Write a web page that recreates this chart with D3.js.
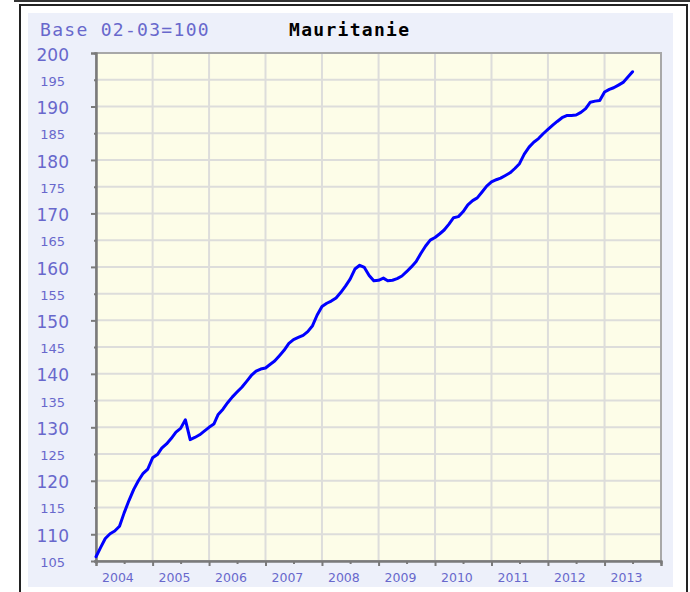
<!DOCTYPE html>
<html>
<head>
<meta charset="utf-8">
<script src="https://cdn.jsdelivr.net/npm/d3@7"></script>
<style>
  html, body { margin: 0; padding: 0; background: #ffffff; }
  svg { display: block; }
</style>
</head>
<body>
<svg id="chart" width="690" height="592"></svg>
<script>
// Monthly price index, Mauritania, base 2002-03 = 100, starting January 2004
const title = "Mauritanie";
const baseLabel = "Base 02-03=100";
const startYear = 2004;
const startMonth = 0;
const indexValues = [
  105.8, 107.6, 109.2, 110.1, 110.6, 111.5, 114.0, 116.3, 118.4, 120.0, 121.4, 122.2,
  124.3, 124.9, 126.1, 126.9, 127.9, 129.1, 129.8, 131.4, 127.7, 128.1, 128.6, 129.3,
  130.0, 130.6, 132.4, 133.4, 134.6, 135.7, 136.6, 137.5, 138.6, 139.7, 140.5, 140.9,
  141.1, 141.8, 142.4, 143.4, 144.4, 145.7, 146.4, 146.8, 147.2, 147.9, 149.0, 151.0,
  152.6, 153.2, 153.6, 154.2, 155.2, 156.4, 157.7, 159.6, 160.3, 159.9, 158.4, 157.4,
  157.5, 157.9, 157.4, 157.5, 157.8, 158.3, 159.1, 160.0, 161.0, 162.5, 163.9, 165.0,
  165.5, 166.2, 166.9, 168.0, 169.2, 169.4, 170.3, 171.6, 172.4, 172.9, 174.0, 175.1,
  175.9, 176.3, 176.6, 177.1, 177.6, 178.4, 179.3, 181.1, 182.4, 183.3, 184.0, 184.9,
  185.7, 186.5, 187.2, 187.9, 188.3, 188.3, 188.4, 188.9, 189.6, 190.8, 191.0, 191.1,
  192.7, 193.2, 193.5, 194.0, 194.5, 195.5, 196.5
];
const yearLabels = ["2004", "2005", "2006", "2007", "2008", "2009", "2010", "2011", "2012", "2013"];
const yMajorTicks = [110, 120, 130, 140, 150, 160, 170, 180, 190, 200];
const yMinorTicks = [105, 115, 125, 135, 145, 155, 165, 175, 185, 195];
const yDomain = [105, 200];

const svg = d3.select("#chart");
const blue = "#6868cc";

// page frame
svg.append("line").attr("x1", 14).attr("x2", 690).attr("y1", 1).attr("y2", 1)
  .attr("stroke", "#333").attr("stroke-width", 2);
svg.append("rect").attr("x", 20).attr("y", 5).attr("width", 667).attr("height", 600)
  .attr("fill", "#ffffff").attr("stroke", "#222").attr("stroke-width", 2);
svg.append("rect").attr("x", 28).attr("y", 13).attr("width", 645).attr("height", 574)
  .attr("fill", "#edf0fa");

const plot = { left: 96, right: 661, top: 53, bottom: 561 };

const x = d3.scaleTime()
  .domain([new Date(startYear, 0, 1), new Date(startYear + yearLabels.length, 0, 1)])
  .range([plot.left, plot.right]);
const y = d3.scaleLinear().domain(yDomain).range([plot.bottom, plot.top]);

// plot background
svg.append("rect")
  .attr("x", plot.left).attr("y", plot.top)
  .attr("width", plot.right - plot.left).attr("height", plot.bottom - plot.top)
  .attr("fill", "#fdfde8");

const yearStarts = yearLabels.map(l => new Date(+l, 0, 1));
const midYears = yearLabels.map(l => new Date(+l, 6, 1));
const allY = yMajorTicks.concat(yMinorTicks);

// grid
const grid = svg.append("g").attr("stroke", "#dddddb").attr("stroke-width", 2);
grid.selectAll(".gy").data(allY).join("line")
  .attr("x1", plot.left).attr("x2", plot.right)
  .attr("y1", d => y(d)).attr("y2", d => y(d));
grid.selectAll(".gx").data(yearStarts).join("line")
  .attr("x1", d => x(d)).attr("x2", d => x(d))
  .attr("y1", plot.top).attr("y2", plot.bottom);

// plot border
svg.append("rect")
  .attr("x", plot.left).attr("y", plot.top)
  .attr("width", plot.right - plot.left).attr("height", plot.bottom - plot.top)
  .attr("fill", "none").attr("stroke", "#a8a8a8").attr("stroke-width", 2);

// y axis: long ticks with large labels every 10, short ticks with small labels in between
const yAxisMajor = d3.axisLeft(y).tickValues(yMajorTicks).tickSize(5).tickPadding(22);
const yAxisMinor = d3.axisLeft(y).tickValues(yMinorTicks).tickSize(2).tickPadding(29);
const gyMaj = svg.append("g").attr("transform", `translate(${plot.left},0)`).call(yAxisMajor);
const gyMin = svg.append("g").attr("transform", `translate(${plot.left},0)`).call(yAxisMinor);
[gyMaj, gyMin].forEach(g => {
  g.select(".domain").attr("stroke", "#7a7a7a").attr("stroke-width", 2);
  g.selectAll(".tick line").attr("stroke", "#7a7a7a").attr("stroke-width", 2);
  g.selectAll(".tick text").attr("fill", blue).attr("font-family", "DejaVu Sans").attr("dy", "0.42em");
});
gyMaj.selectAll(".tick text").attr("font-size", 17);
gyMin.selectAll(".tick text").attr("font-size", 13);

// x axis: year ticks, mid-year minor ticks
const xAxisMajor = d3.axisBottom(x).tickValues(yearStarts.concat([new Date(startYear + yearLabels.length, 0, 1)]))
  .tickSize(5).tickFormat("");
const xAxisMinor = d3.axisBottom(x).tickValues(midYears).tickSize(3).tickFormat("");
const gxMaj = svg.append("g").attr("transform", `translate(0,${plot.bottom})`).call(xAxisMajor);
const gxMin = svg.append("g").attr("transform", `translate(0,${plot.bottom})`).call(xAxisMinor);
[gxMaj, gxMin].forEach(g => {
  g.select(".domain").attr("stroke", "#7a7a7a").attr("stroke-width", 2);
  g.selectAll(".tick line").attr("stroke", "#7a7a7a").attr("stroke-width", 2);
});
svg.append("g").selectAll("text").data(yearLabels).join("text")
  .attr("x", d => x(new Date(+d, 0, 1)) + 6)
  .attr("y", plot.bottom + 21)
  .attr("font-family", "DejaVu Sans").attr("font-size", 12.5)
  .attr("fill", blue)
  .text(d => d);

// index line
const line = d3.line()
  .x((d, i) => x(new Date(startYear, startMonth + i, 1)))
  .y(d => y(d));
svg.append("path").datum(indexValues)
  .attr("d", line)
  .attr("fill", "none").attr("stroke", "#0000ff").attr("stroke-width", 3)
  .attr("stroke-linejoin", "round").attr("stroke-linecap", "round");

// header texts
svg.append("text").attr("x", 40).attr("y", 36)
  .attr("font-family", "DejaVu Sans Mono").attr("font-size", 18).attr("letter-spacing", 1.3)
  .attr("fill", blue).text(baseLabel);
svg.append("text").attr("x", 289).attr("y", 36)
  .attr("font-family", "DejaVu Sans Mono").attr("font-size", 18).attr("font-weight", "bold")
  .attr("letter-spacing", 1.3)
  .attr("fill", "#000").text(title);
</script>
</body>
</html>
